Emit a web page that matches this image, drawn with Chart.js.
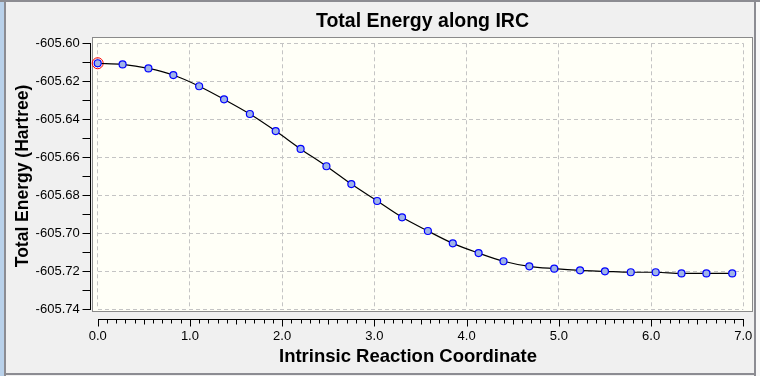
<!DOCTYPE html>
<html>
<head>
<meta charset="utf-8">
<script src="https://cdn.jsdelivr.net/npm/chart.js@4.4.1/dist/chart.umd.min.js"></script>
<style>
    html, body { margin: 0; padding: 0; background: #f0f0f0; }
    #wrap { width: 760px; height: 376px; }
</style>
</head>
<body>
<div id="wrap"><canvas id="ircChart" width="760" height="376"></canvas></div>
<script>
// IRC points
const coords = [0.00, 0.27, 0.55, 0.82, 1.10, 1.37, 1.65, 1.93, 2.20, 2.48, 2.75, 3.03, 3.30,
                3.58, 3.85, 4.13, 4.40, 4.68, 4.95, 5.23, 5.50, 5.78, 6.05, 6.33, 6.60, 6.88];
const energies = [-605.6105, -605.6111, -605.6132, -605.6167, -605.6226, -605.6295, -605.6372,
                  -605.6462, -605.6556, -605.6647, -605.6741, -605.6830, -605.6916, -605.6988,
                  -605.7053, -605.7104, -605.7147, -605.7174, -605.7186, -605.7195, -605.7200,
                  -605.7205, -605.7205, -605.7211, -605.7211, -605.7211];
const currentPoint = 0; // highlighted (red ring)

const xTickValues = [0, 1, 2, 3, 4, 5, 6, 7];
const yTickValues = [-605.60, -605.62, -605.64, -605.66, -605.68, -605.70, -605.72, -605.74];

const chartTitle = "Total Energy along IRC";
const xTitle = "Intrinsic Reaction Coordinate";
const yTitle = "Total Energy (Hartree)";

const points = coords.map((x, i) => ({ x: x, y: energies[i] }));

// window frame + plot box behind the chart
const framePlugin = {
    id: "frame",
    beforeDraw(chart) {
        const ctx = chart.ctx;
        const ca = chart.chartArea;
        ctx.save();
        ctx.fillStyle = "#f0f0f0";
        ctx.fillRect(0, 0, 760, 376);
        ctx.fillStyle = "#b9d1ea";
        ctx.fillRect(0, 0, 4, 376);
        ctx.fillStyle = "#8c8c92";
        ctx.fillRect(0, 0, 760, 2);
        ctx.fillRect(4, 0, 2, 376);
        ctx.fillRect(754, 0, 2, 376);
        ctx.fillRect(4, 373, 752, 2);
        ctx.fillStyle = "#f9f9f9";
        ctx.fillRect(756, 2, 4, 374);

        // plot box
        const l = Math.round(ca.left - 5.5) + 0.5;
        const t = Math.round(ca.top - 6) + 0.5;
        const r = Math.round(ca.right + 9) + 0.5;
        const b = Math.round(ca.bottom + 1.5) + 0.5;
        ctx.fillStyle = "#fffff7";
        ctx.fillRect(l, t, r - l, b - t);
        ctx.strokeStyle = "#8a8a8a";
        ctx.lineWidth = 1;
        ctx.strokeRect(l, t, r - l, b - t);
        ctx.restore();
    },
    afterDraw(chart) {
        const ctx = chart.ctx;
        const ca = chart.chartArea;
        const xs = chart.scales.x;
        const ys = chart.scales.y;
        ctx.save();
        ctx.strokeStyle = "#000";
        ctx.lineWidth = 1;

        // y axis line and ticks
        const ax = Math.round(ca.left - 8) + 0.5;
        ctx.beginPath();
        ctx.moveTo(ax, Math.round(ys.getPixelForValue(-605.60)));
        ctx.lineTo(ax, Math.round(ys.getPixelForValue(-605.74)) + 1);
        for (let k = 0; k <= 14; k++) {
            const py = Math.round(ys.getPixelForValue(-605.60 - k * 0.01)) + 0.5;
            ctx.moveTo(ax - 8, py);
            ctx.lineTo(ax, py);
        }
        ctx.stroke();

        // x axis line and ticks
        const ay = Math.round(ca.bottom + 9.5) + 0.5;
        ctx.beginPath();
        ctx.moveTo(Math.round(xs.getPixelForValue(0)), ay);
        ctx.lineTo(Math.round(xs.getPixelForValue(7)) + 1, ay);
        for (let k = 0; k <= 70; k++) {
            const px = Math.round(xs.getPixelForValue(k / 10)) + 0.5;
            const len = k % 10 === 0 ? 7 : (k % 5 === 0 ? 5 : 4);
            ctx.moveTo(px, ay);
            ctx.lineTo(px, ay + len);
        }
        ctx.stroke();

        // titles
        ctx.fillStyle = "#000";
        ctx.textAlign = "center";
        ctx.textBaseline = "alphabetic";
        ctx.font = "bold 19.5px 'Liberation Sans', Arial, sans-serif";
        ctx.fillText(chartTitle, 422.5, 26.5);
        ctx.font = "bold 18.5px 'Liberation Sans', Arial, sans-serif";
        ctx.fillText(xTitle, 408, 361.5);
        ctx.translate(28, 176);
        ctx.rotate(-Math.PI / 2);
        ctx.font = "bold 17.5px 'Liberation Sans', Arial, sans-serif";
        ctx.fillText(yTitle, 0, 0);
        ctx.restore();
    }
};

new Chart(document.getElementById("ircChart"), {
    type: "scatter",
    data: {
        datasets: [
            {
                data: points,
                showLine: true,
                clip: false,
                borderColor: "#000000",
                borderWidth: 1.2,
                cubicInterpolationMode: "monotone",
                pointRadius: 3.5,
                pointBorderWidth: 1.2,
                pointBorderColor: "#0000ff",
                pointBackgroundColor: "#9fb3e8",
                order: 1
            },
            {
                data: [points[currentPoint]],
                showLine: false,
                clip: false,
                pointRadius: 5.5,
                pointBorderWidth: 1,
                pointBorderColor: "#ff0000",
                pointBackgroundColor: "rgba(0,0,0,0)",
                order: 2
            }
        ]
    },
    options: {
        responsive: false,
        animation: false,
        devicePixelRatio: 1,
        layout: { padding: { top: 43.3, right: 16.7, left: 0, bottom: 0 } },
        plugins: {
            legend: { display: false },
            title: { display: false },
            tooltip: { enabled: false }
        },
        scales: {
            x: {
                type: "linear",
                min: 0,
                max: 7,
                afterBuildTicks: (s) => { s.ticks = xTickValues.map(v => ({ value: v })); },
                afterFit: (s) => { s.height = 66.7; s.paddingLeft = 0; s.paddingRight = 0; },
                border: { display: false, dash: [4, 3] },
                grid: { color: "#c4c4c4", drawTicks: false, lineWidth: 1 },
                ticks: {
                    color: "#000",
                    padding: 19,
                    maxRotation: 0,
                    font: { family: "'Liberation Sans', Arial, sans-serif", size: 13 },
                    callback: (v) => Number(v).toFixed(1)
                }
            },
            y: {
                type: "linear",
                min: -605.74,
                max: -605.60,
                afterBuildTicks: (s) => { s.ticks = yTickValues.map(v => ({ value: v })); },
                afterFit: (s) => { s.width = 97.7; s.paddingTop = 0; s.paddingBottom = 0; },
                border: { display: false, dash: [4, 3] },
                grid: { color: "#c4c4c4", drawTicks: false, lineWidth: 1 },
                ticks: {
                    color: "#000",
                    padding: 18,
                    font: { family: "'Liberation Sans', Arial, sans-serif", size: 13 },
                    callback: (v) => Number(v).toFixed(2)
                }
            }
        }
    },
    plugins: [framePlugin]
});
</script>
</body>
</html>
